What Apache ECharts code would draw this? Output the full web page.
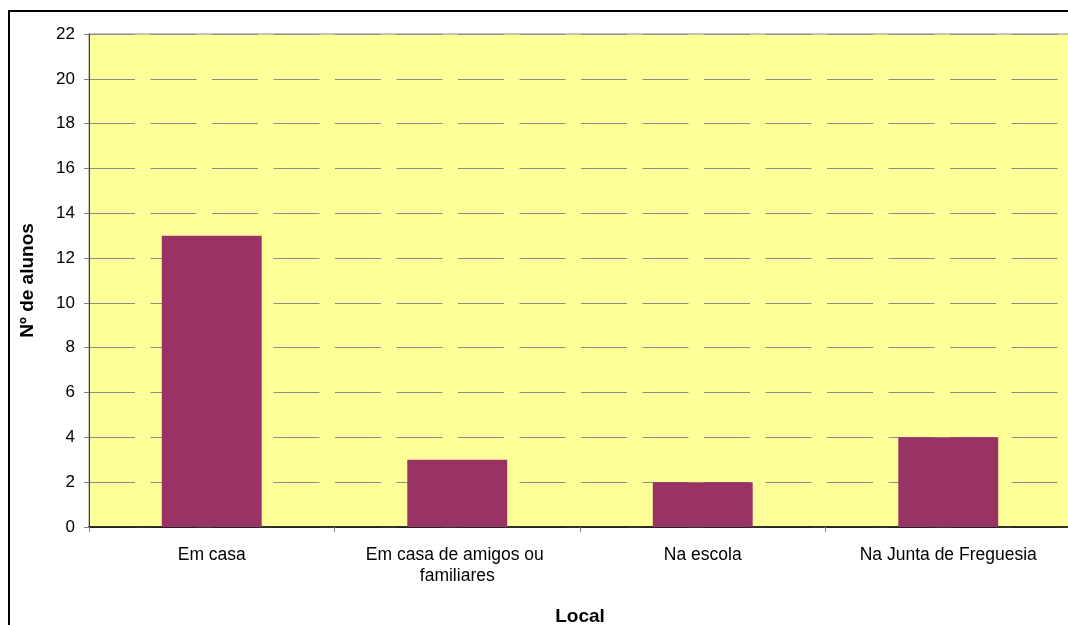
<!DOCTYPE html>
<html>
<head>
<meta charset="utf-8">
<script src="https://cdn.jsdelivr.net/npm/echarts@6/dist/echarts.min.js"></script>
<style>
  html, body { margin: 0; padding: 0; background: #ffffff; }
  #chart { width: 1068px; height: 625px; }
</style>
</head>
<body>
<div id="chart"></div>
<script>
// Local onde os alunos estudam
const categories = ['Em casa', 'Em casa de amigos ou familiares', 'Na escola', 'Na Junta de Freguesia'];
const alunos = [13, 3, 2, 4];
const yTicks = { min: 0, max: 22, interval: 2 };

const font = 'Liberation Sans, Arial, sans-serif';

const chart = echarts.init(document.getElementById('chart'), null, { renderer: 'canvas' });

chart.setOption({
  animation: false,
  backgroundColor: '#ffffff',
  graphic: [{
    type: 'rect',
    shape: { x: 9, y: 11, width: 1200, height: 800 },
    style: { fill: 'none', stroke: '#000000', lineWidth: 2 },
    silent: true,
    z: 100
  }],
  grid: {
    left: 89,
    top: 34,
    width: 982,
    height: 493,
    show: true,
    backgroundColor: '#FFFF99',
    borderColor: '#8c8c8c',
    borderWidth: 1,
    containLabel: false,
    outerBoundsMode: 'none'
  },
  xAxis: {
    type: 'category',
    data: categories,
    name: 'Local',
    nameLocation: 'middle',
    nameGap: 80,
    nameTextStyle: { fontFamily: font, fontSize: 19, fontWeight: 'bold', color: '#000' },
    axisLine: { show: true, lineStyle: { color: '#000', width: 1.5 } },
    axisTick: { show: true, alignWithLabel: false, length: 5, lineStyle: { color: '#808080' } },
    axisLabel: {
      interval: 0,
      margin: 18,
      fontFamily: font,
      fontSize: 17.5,
      color: '#000',
      lineHeight: 21,
      width: 195,
      overflow: 'break'
    },
    splitLine: { show: false }
  },
  yAxis: {
    type: 'value',
    min: yTicks.min,
    max: yTicks.max,
    interval: yTicks.interval,
    name: 'Nº de alunos',
    nameLocation: 'middle',
    nameGap: 52,
    nameRotate: 90,
    nameTextStyle: { fontFamily: font, fontSize: 19, fontWeight: 'bold', color: '#000' },
    axisLine: { show: true, lineStyle: { color: '#444', width: 1 } },
    axisTick: { show: true, length: 5, lineStyle: { color: '#808080' } },
    axisLabel: { margin: 14, fontFamily: font, fontSize: 17, color: '#000' },
    splitLine: {
      show: true,
      lineStyle: { color: '#8c8c8c', width: 1, type: [46, 15.5] }
    }
  },
  series: [{
    type: 'bar',
    data: alunos,
    barWidth: '40.7%',
    itemStyle: { color: '#993366' }
  }]
});
</script>
</body>
</html>
